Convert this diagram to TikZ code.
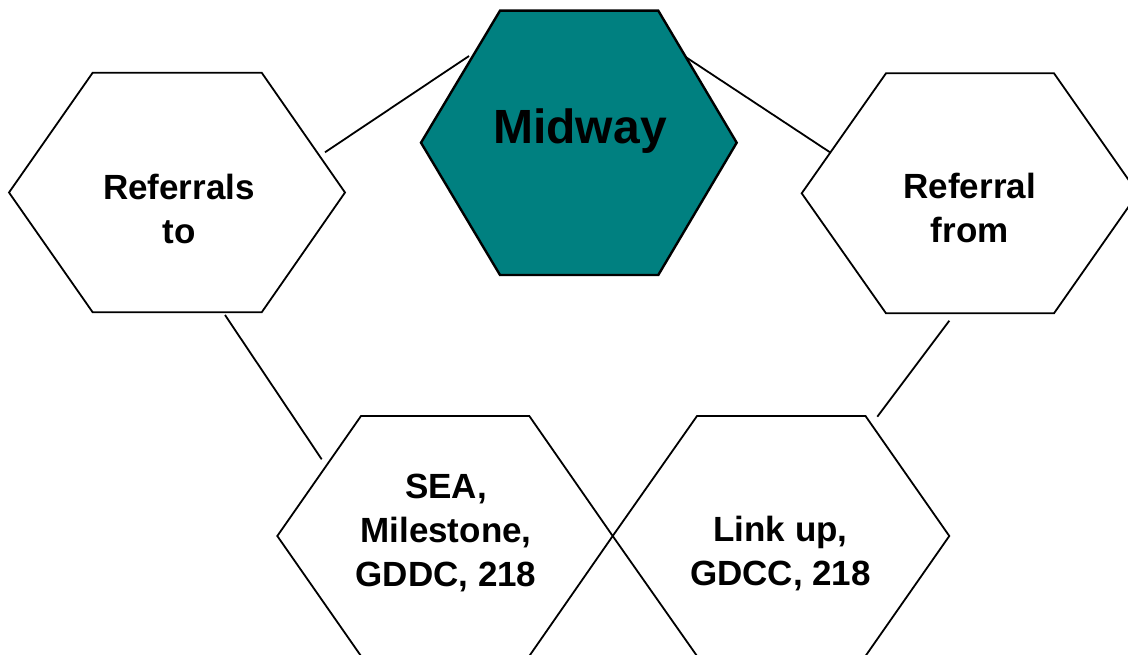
\documentclass[tikz,border=0pt]{standalone}
\usepackage{fontspec}
\setmainfont{Liberation Sans}
\definecolor{midteal}{RGB}{0,128,128}
\begin{document}
\begin{tikzpicture}[x=1pt,y=-1pt,
  hexline/.style={draw=black,line width=1.8pt,line join=miter},
  midhex/.style={draw=black,fill=midteal,line width=2.4pt,line join=miter},
  link/.style={draw=black,line width=1.8pt},
  lbl/.style={font=\fontsize{35}{44}\selectfont\bfseries,align=center,inner sep=0pt,anchor=north},
  bigl/.style={font=\fontsize{48}{56}\selectfont\bfseries,inner sep=0pt,anchor=base}]
\clip (0,0) rectangle (1128,655);
\fill[white] (0,0) rectangle (1128,655);
% hexagons
\draw[midhex] (421,142.7) -- (500,10.7) -- (658.3,10.7) -- (736.7,142.7) -- (658.3,275) -- (500,275) -- cycle;
\draw[hexline] (9,192.5) -- (92.7,72.7) -- (261.7,72.7) -- (345,192.5) -- (261.7,312.3) -- (92.7,312.3) -- cycle;
\draw[hexline] (801.7,193.3) -- (886,73.3) -- (1054,73.3) -- (1138,193.3) -- (1054,313.3) -- (886,313.3) -- cycle;
\draw[hexline] (277.3,536) -- (361,416) -- (529.3,416) -- (612.7,536) -- (529.3,656) -- (361,656) -- cycle;
\draw[hexline] (612.7,536) -- (697,416) -- (865.5,416) -- (949.3,536) -- (865.5,656) -- (697,656) -- cycle;
% labels
\node[bigl] (mid) at (580,144) {Midway};
\node[lbl] (rto) at (179,173.5) {Referrals\\to};
\node[lbl] (rfrom) at (969.7,173) {Referral\\from};
\node[lbl] (sea) at (446,474) {SEA,\\Milestone,\\GDDC, 218};
\node[lbl] (lnk) at (780.5,515.5) {Link up,\\GDCC, 218};
% connector end points
\coordinate (c1a) at (325,152.3);
\coordinate (c1b) at (469,56);
\coordinate (c2a) at (686.7,57.7);
\coordinate (c2b) at (830,152.3);
\coordinate (c3a) at (225,315);
\coordinate (c3b) at (321.7,459.3);
\coordinate (c4a) at (949.3,320.7);
\coordinate (c4b) at (877.3,416.7);
\draw[link] (c1a) -- (c1b);
\draw[link] (c2a) -- (c2b);
\draw[link] (c3a) -- (c3b);
\draw[link] (c4a) -- (c4b);
\end{tikzpicture}
\end{document}
